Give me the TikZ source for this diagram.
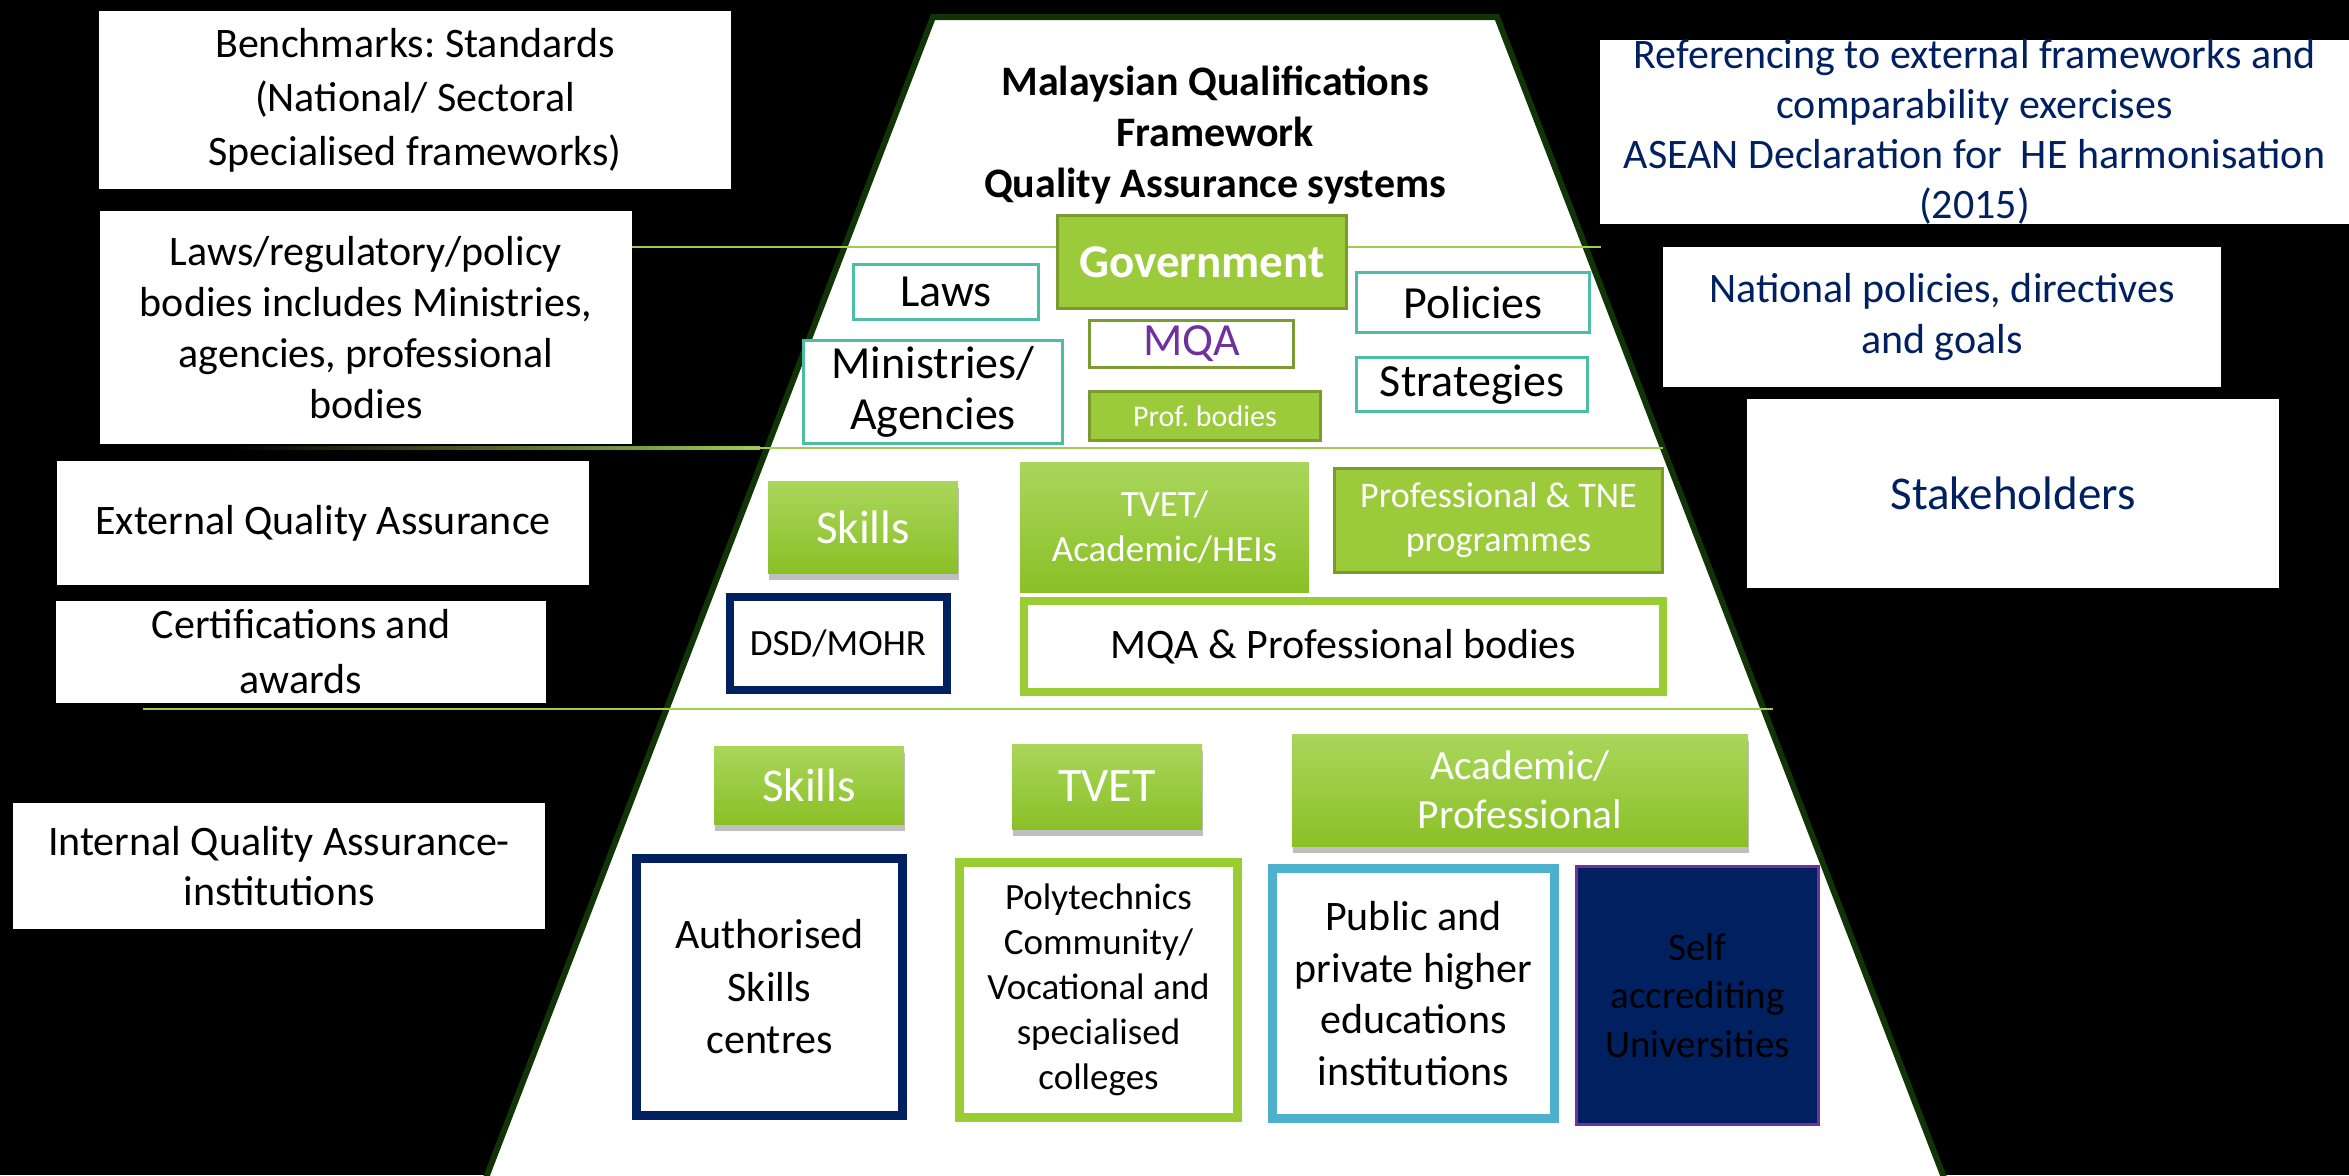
\documentclass[tikz,border=0pt]{standalone}
\usepackage{fontspec}
\setmainfont{Carlito}
\frenchspacing
\usetikzlibrary{shadows}
\definecolor{navy}{RGB}{0,32,96}
\definecolor{tealb}{RGB}{75,190,165}
\definecolor{lgreen}{RGB}{155,203,59}
\definecolor{dgreen}{RGB}{122,155,48}
\definecolor{gtop}{RGB}{170,214,92}
\definecolor{gbot}{RGB}{138,192,38}
\definecolor{trapline}{RGB}{16,52,6}
\definecolor{sepline}{RGB}{160,205,80}
\definecolor{mqapurple}{RGB}{112,48,160}
\definecolor{pubblue}{RGB}{77,177,206}
\definecolor{brightgreen}{RGB}{154,204,52}
\newcommand{\myfs}[2]{\fontsize{#1}{#2}\selectfont}
\tikzset{
  base/.style={inner sep=0pt, outer sep=0pt, align=center, text=black},
  sidebox/.style={base, fill=white},
  navytext/.style={text=navy},
  tealbox/.style={base, fill=white, draw=tealb, line width=3pt, font={\myfs{46}{51}}},
  flatgreen/.style={base, fill=lgreen, draw=dgreen, line width=3pt, text=white},
  gradgreen/.style={base, top color=gtop, bottom color=gbot, text=white},
  shadowed/.style={drop shadow={shadow xshift=1pt, shadow yshift=-7pt, opacity=0.25, fill=black}},
  thickbox/.style={base, fill=white},
  sepl/.style={draw=sepline, line width=2.5pt},
}
\begin{document}
\begin{tikzpicture}[x=1pt,y=-1pt]
\useasboundingbox (0,0) rectangle (2349,1175);
\clip (0,0) rectangle (2349,1175);
\fill[black] (0,0) rectangle (2349,1175);

% trapezoid
\draw[trapline, line width=6pt, fill=white, line join=miter]
  (933,17) -- (1497,17) -- (1952.6,1200) -- (477.4,1200) -- cycle;

% separator lines
\coordinate (a1) at (632,247);
\coordinate (a2) at (1601,247);
\draw[sepl] (a1) -- (a2);
\shade[left color=black, right color=sepline] (230,446.7) rectangle (760,449.3);
\coordinate (b1) at (760,448);
\coordinate (b2) at (1663,448);
\draw[sepl] (b1) -- (b2);
\coordinate (c1) at (143,709);
\coordinate (c2) at (1773,709);
\draw[sepl] (c1) -- (c2);

% left boxes
\node[sidebox, minimum width=632pt, minimum height=178pt, font={\myfs{42}{54}}] (bench) at (415,100)
  {Benchmarks: Standards\\(National/ Sectoral\\Specialised frameworks)};
\node[sidebox, minimum width=532pt, minimum height=233pt, font={\myfs{42}{51}}] (lawsreg) at (366,327.5)
  {Laws/regulatory/policy\\bodies includes Ministries,\\agencies, professional\\bodies};
\node[sidebox, minimum width=532pt, minimum height=124pt, font={\myfs{42}{51}}] (eqa) at (323,523)
  {External Quality Assurance};
\node[sidebox, minimum width=490pt, minimum height=102pt, font={\myfs{42}{55}}] (cert) at (301,652)
  {Certifications and\\awards};
\node[sidebox, minimum width=532pt, minimum height=126pt, font={\myfs{42}{50}}] (iqa) at (279,866)
  {Internal Quality Assurance-\\institutions};

% right boxes
\node[sidebox, navytext, minimum width=749pt, minimum height=178pt, font={\myfs{42}{50}}] (ref) at (1974.5,132)
  {Referencing to external frameworks and\\comparability exercises\\ASEAN Declaration for\ \ HE harmonisation\\(2015)};
\node[sidebox, navytext, minimum width=558pt, minimum height=140pt, font={\myfs{42}{51}}] (natpol) at (1942,317)
  {National policies, directives\\and goals};
\node[sidebox, navytext, minimum width=532pt, minimum height=189pt, font={\myfs{47}{52}}] (stake) at (2013,493.5)
  {Stakeholders};

% title
\node[base, font={\bfseries\myfs{42}{51}}] (title) at (1215,135)
  {Malaysian Qualifications\\Framework\\Quality Assurance systems};

% tier 1
\node[flatgreen, minimum width=289pt, minimum height=93pt, font={\bfseries\myfs{47}{50}}] (gov) at (1202,262) {Government};
\node[tealbox, minimum width=185pt, minimum height=55pt] (laws) at (946,292) {Laws};
\node[tealbox, minimum width=233pt, minimum height=60pt] (pol) at (1473,302.5) {Policies};
\node[tealbox, minimum width=231pt, minimum height=54pt] (strat) at (1472,384.5) {Strategies};
\node[tealbox, minimum width=259pt, minimum height=103pt] (mini) at (933,392) {Ministries/\\Agencies};
\node[base, fill=white, draw=dgreen, line width=3pt, text=mqapurple, font={\myfs{46}{50}},
      minimum width=204pt, minimum height=47pt] (mqa) at (1191.5,344) {MQA};
\node[flatgreen, font={\myfs{30}{34}}, minimum width=231pt, minimum height=49pt] (prof) at (1205,416) {Prof. bodies};

% tier 2
\node[gradgreen, shadowed, minimum width=190pt, minimum height=92pt, font={\myfs{47}{50}}] (skillsB) at (863,527) {Skills};
\node[gradgreen, minimum width=289pt, minimum height=130pt, font={\myfs{37}{45}}] (tvethei) at (1164.5,527) {TVET/\\Academic/HEIs};
\node[flatgreen, minimum width=328pt, minimum height=104pt, font={\myfs{36}{44}}] (proftne) at (1498.5,520.5) {Professional \& TNE\\programmes};
\node[thickbox, draw=navy, line width=8pt, minimum width=217pt, minimum height=93pt, font={\myfs{37}{44}}] (dsd) at (838,643.5) {DSD/MOHR};
\node[thickbox, draw=brightgreen, line width=8pt, minimum width=639pt, minimum height=91pt, font={\myfs{42}{50}}] (mqapb) at (1343.5,646.5) {MQA \& Professional bodies};

% tier 3
\node[gradgreen, shadowed, minimum width=190pt, minimum height=78pt, font={\myfs{47}{50}}] (skillsC) at (809,785) {Skills};
\node[gradgreen, shadowed, minimum width=190pt, minimum height=85pt, font={\myfs{48}{50}}] (tvetC) at (1107,786.5) {TVET};
\node[gradgreen, shadowed, minimum width=456pt, minimum height=112pt, font={\myfs{41.5}{49}}] (acad) at (1520,790) {Academic/\\Professional};
\node[thickbox, draw=navy, line width=9pt, minimum width=266pt, minimum height=257pt, font={\myfs{42}{52.5}}] (auth) at (769.5,987) {Authorised\\Skills\\centres};
\node[thickbox, draw=brightgreen, line width=9pt, minimum width=278pt, minimum height=255pt, font={\myfs{37}{45}}] (poly) at (1098.5,990) {Polytechnics\\Community/\\Vocational and\\specialised\\colleges};
\node[thickbox, draw=pubblue, line width=9pt, minimum width=282pt, minimum height=250pt, font={\myfs{42}{51.5}}] (pub) at (1413.5,993.5) {Public and\\private higher\\educations\\institutions};
\node[base, fill=navy, draw=mqapurple, line width=3pt, minimum width=242pt, minimum height=258pt, font={\myfs{39}{48.5}}] (self) at (1697.5,995.5) {Self\\accrediting\\Universities};
\end{tikzpicture}
\end{document}
